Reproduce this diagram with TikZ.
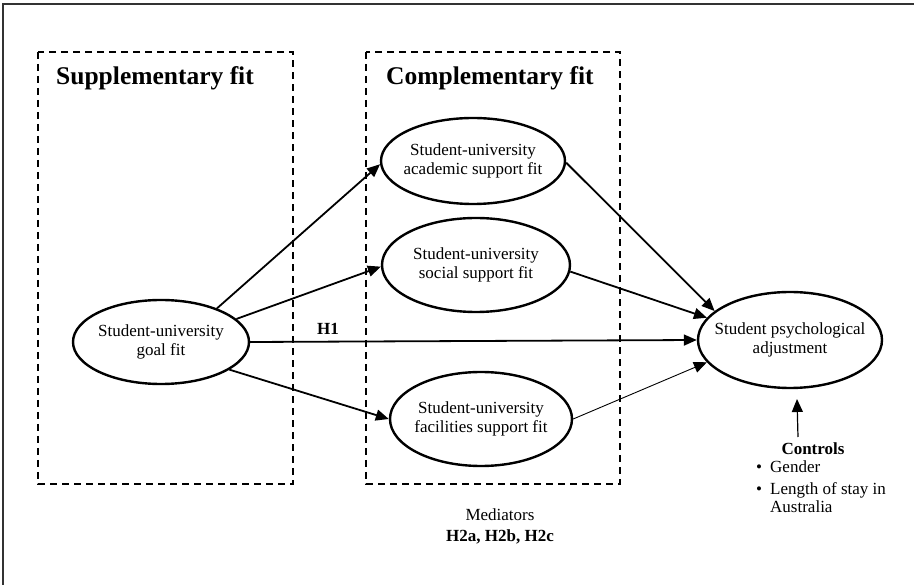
\documentclass[tikz,border=0pt]{standalone}
\usepackage{fontspec}
\setmainfont{Liberation Serif}
\usetikzlibrary{shapes.geometric,arrows.meta}
\begin{document}
\begin{tikzpicture}[x=1pt,y=-1pt,
  lv/.style={draw, ellipse, line width=2.4pt, inner xsep=-20pt, inner ysep=0pt, align=center, font=\fontsize{17}{18.5}\selectfont},
  grp/.style={draw, line width=1.8pt, dash pattern=on 7pt off 5pt},
  ttl/.style={font=\fontsize{25.5}{28}\selectfont\bfseries, anchor=base west, inner sep=0pt},
  arr/.style={line width=1.8pt, -{Triangle[length=13pt,width=11pt]}},
  txt/.style={font=\fontsize{17}{18.5}\selectfont, inner sep=0pt, anchor=base west},
  btxt/.style={font=\fontsize{17}{18.5}\selectfont\bfseries, inner sep=0pt, anchor=base},
]
\useasboundingbox (0,0) rectangle (914,585);
\draw[line width=2pt, color=black!80] (3,585) -- (3,4) -- (914,4);
\draw[grp] (38,52) rectangle (293,484);
\draw[grp] (366,52) rectangle (620,484);
\node[ttl] (tsup) at (56,85) {Supplementary fit};
\node[ttl] (tcomp) at (386,85) {Complementary fit};

\node[lv, minimum width=176pt, minimum height=84pt] (goal) at (161,342) {Student-university\\goal fit};
\node[lv, minimum width=184pt, minimum height=86pt] (acad) at (473,161) {Student-university\\academic support fit};
\node[lv, minimum width=188pt, minimum height=94pt] (social) at (476,265) {Student-university\\social support fit};
\node[lv, minimum width=182pt, minimum height=94pt] (facil) at (481,419) {Student-university\\facilities support fit};
\node[lv, minimum width=184pt, minimum height=96pt] (outc) at (790,340) {Student psychological\\adjustment};

\draw[arr] (goal.31) -- (acad.182);
\draw[arr] (goal.17) -- (social.181);
\draw[arr] (goal.0) -- (outc.180);
\draw[arr] (goal.-22) -- (facil.180);
\draw[arr] (acad.-1) -- (outc.159);
\draw[arr] (social.-4) -- (outc.165);
\draw[arr, line width=0.9pt] (facil.0) -- (outc.195);
\node[btxt] (h1) at (328,335) {H1};

\node[btxt] (ctrl) at (813,455) {Controls};
\coordinate (ctail) at (798,437);
\coordinate (ctip) at (797,399);
\draw[arr, line width=1.2pt] (ctail) -- (ctip);
\node[txt] (b1) at (756,473) {•};
\node[txt] (c1) at (770,473) {Gender};
\node[txt] (b2) at (756,494) {•};
\node[txt] (c2) at (770,494) {Length of stay in};
\node[txt] (c3) at (770,512) {Australia};

\node[txt, anchor=base] (med) at (500,521) {Mediators};
\node[btxt] (hyp) at (500,541) {H2a, H2b, H2c};
\end{tikzpicture}
\end{document}
